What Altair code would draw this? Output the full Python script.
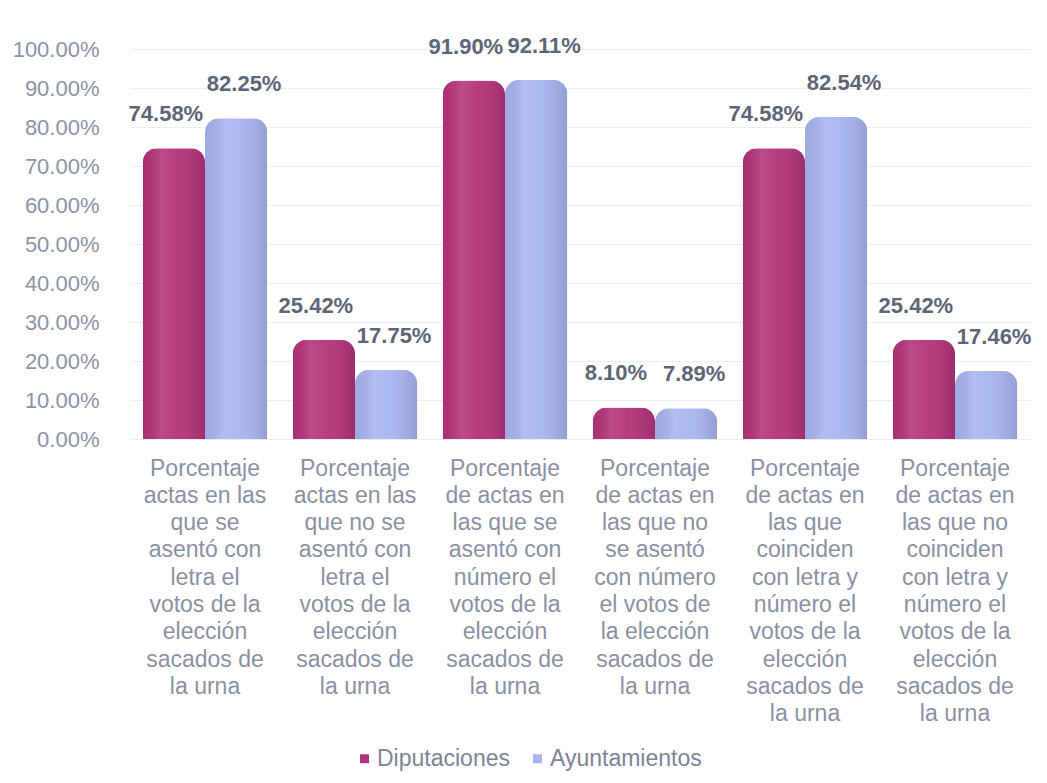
import altair as alt
import pandas as pd

# ---- data ----
category_lines = [
    ["Porcentaje", "actas en las", "que se", "asentó con", "letra el",
     "votos de la", "elección", "sacados de", "la urna"],
    ["Porcentaje", "actas en las", "que no se", "asentó con", "letra el",
     "votos de la", "elección", "sacados de", "la urna"],
    ["Porcentaje", "de actas en", "las que se", "asentó con", "número el",
     "votos de la", "elección", "sacados de", "la urna"],
    ["Porcentaje", "de actas en", "las que no", "se asentó", "con número",
     "el  votos de", "la elección", "sacados de", "la urna"],
    ["Porcentaje", "de actas en", "las que", "coinciden", "con letra y",
     "número el", "votos de la", "elección", "sacados de", "la urna"],
    ["Porcentaje", "de actas en", "las que no", "coinciden", "con letra y",
     "número el", "votos de la", "elección", "sacados de", "la urna"],
]
series = ["Diputaciones", "Ayuntamientos"]
diputaciones = [74.58, 25.42, 91.90, 8.10, 74.58, 25.42]
ayuntamientos = [82.25, 17.75, 92.11, 7.89, 82.54, 17.46]
y_ticks = [0, 10, 20, 30, 40, 50, 60, 70, 80, 90, 100]
colors = ["#b3327a", "#a7b4ef"]

categories = ["|".join(lines) for lines in category_lines]
rows = []
for c, d, a in zip(categories, diputaciones, ayuntamientos):
    rows.append({"cat": c, "serie": series[0], "valor": d})
    rows.append({"cat": c, "serie": series[1], "valor": a})
df = pd.DataFrame(rows)

FONT = "Liberation Sans"

x = alt.X(
    "cat:N", sort=categories,
    scale=alt.Scale(paddingInner=0.17, paddingOuter=0.085),
    axis=alt.Axis(
        title=None, labelAngle=0, labelExpr="split(datum.label, '|')",
        labelFontSize=23, labelLineHeight=27.3, labelColor="#8a91a4",
        labelPadding=18, labelLimit=400, domain=False, ticks=False,
        labelOverlap=False, labelBaseline="top", labelFont=FONT,
        grid=False,
    ),
)
xo = alt.XOffset("serie:N", sort=series,
                 scale=alt.Scale(domain=series, paddingInner=0, paddingOuter=0))
y = alt.Y(
    "valor:Q",
    scale=alt.Scale(domain=[0, 100], nice=False),
    axis=alt.Axis(
        title=None, values=y_ticks,
        labelExpr="format(datum.value, '.2f') + '%'",
        labelFontSize=22, labelColor="#8c93a8", labelFont=FONT,
        labelPadding=31, domain=False, ticks=False,
        grid=True, gridColor="#ededed", gridWidth=1,
    ),
)

base = alt.Chart(df)

bars = base.mark_bar(cornerRadiusTopLeft=14, cornerRadiusTopRight=14).encode(
    x=x, xOffset=xo, y=y,
    color=alt.Color(
        "serie:N",
        scale=alt.Scale(domain=series, range=colors),
        legend=alt.Legend(
            orient="none", legendX=223, legendY=698, direction="horizontal",
            title=None, symbolType="square", symbolSize=80,
            labelFontSize=23, labelColor="#7d8497", labelFont=FONT,
            labelOffset=1, columnPadding=16, symbolStrokeWidth=0,
        ),
    ),
)

shade = base.mark_bar(
    cornerRadiusTopLeft=14, cornerRadiusTopRight=14,
    fill=alt.Gradient(
        gradient="linear", x1=0, x2=1, y1=0, y2=0,
        stops=[
            alt.GradientStop(offset=0, color="rgba(0,0,0,0.05)"),
            alt.GradientStop(offset=0.3, color="rgba(255,255,255,0.12)"),
            alt.GradientStop(offset=0.55, color="rgba(255,255,255,0.05)"),
            alt.GradientStop(offset=1, color="rgba(0,0,0,0.12)"),
        ],
    ),
).encode(x=x, xOffset=xo, y=y)

label_style = dict(fontWeight="bold", fontSize=22, color="#5e6576",
                   baseline="middle", dy=-34, font=FONT)
labels_base = base.transform_calculate(
    txt="format(datum.valor, '.2f') + '%'"
)
labels_d = labels_base.transform_filter(
    alt.datum.serie == series[0]
).mark_text(dx=-8, **label_style).encode(x=x, xOffset=xo, y=y, text="txt:N")
labels_a = labels_base.transform_filter(
    alt.datum.serie == series[1]
).mark_text(dx=8, **label_style).encode(x=x, xOffset=xo, y=y, text="txt:N")

chart = alt.layer(bars, shade, labels_d, labels_a).properties(
    width=900, height=390,
    autosize=alt.AutoSizeParams(type="none"),
    padding={"left": 122, "top": 41, "right": 9, "bottom": 334},
    background="white",
).configure_view(stroke=None)

chart.save("out.html", embed_options={"renderer": "svg", "actions": False})
